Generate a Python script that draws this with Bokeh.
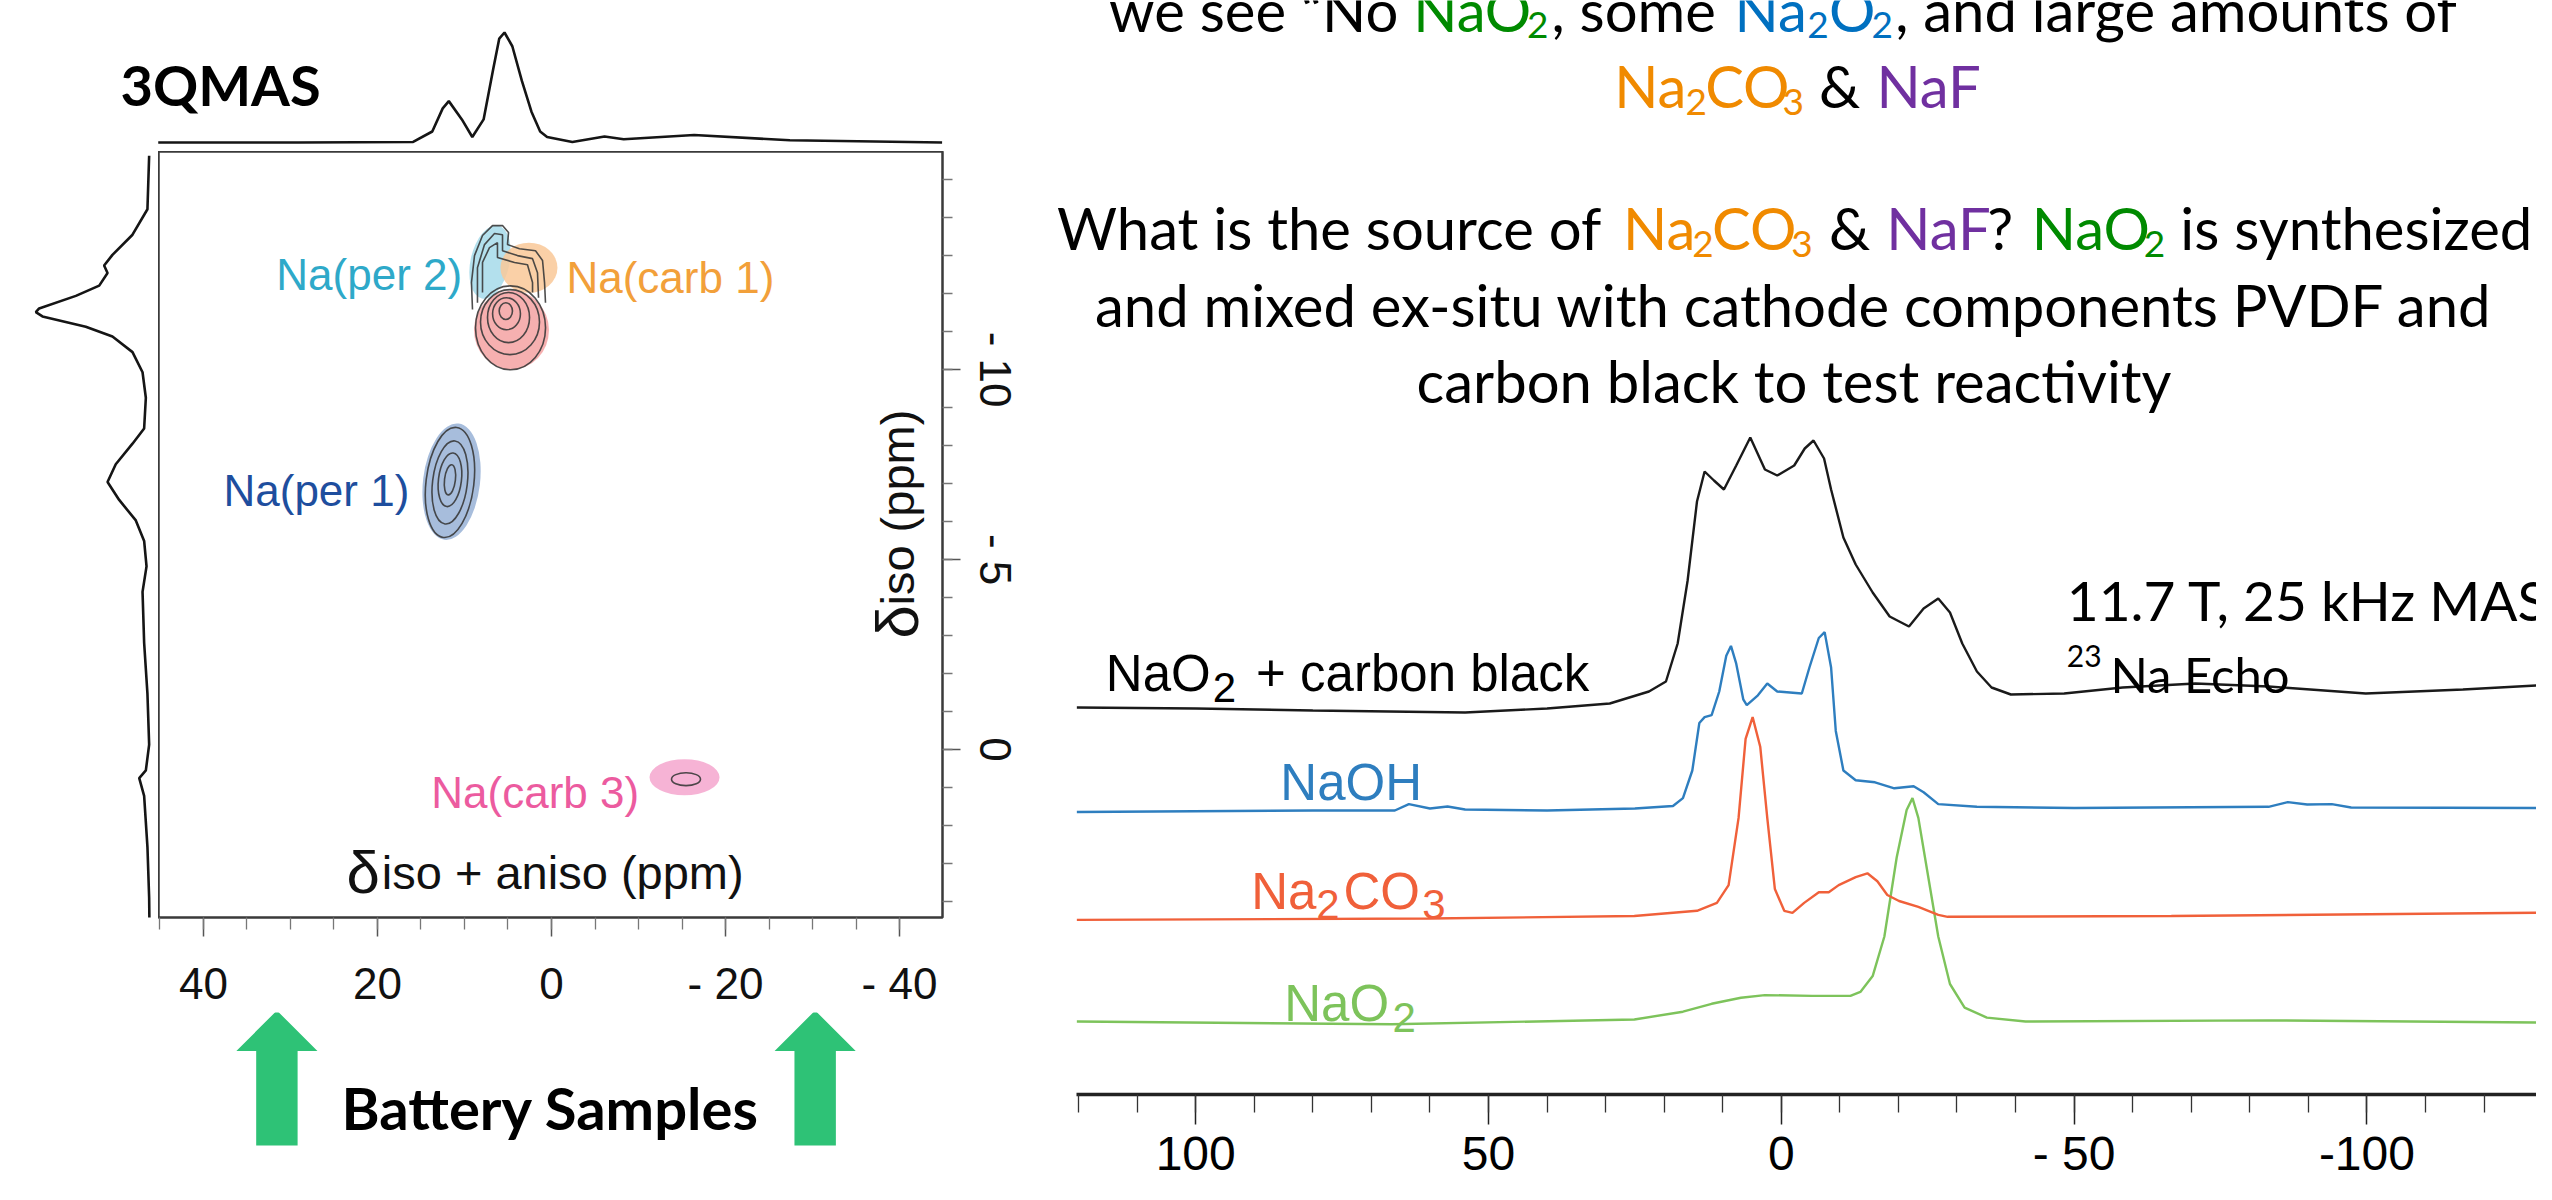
from bokeh.plotting import figure
from bokeh.models import Range1d, FixedTicker, ColumnDataSource, CustomJSTickFormatter
from bokeh.layouts import column, row
from bokeh.embed import file_html
from bokeh.resources import INLINE
from bokeh.core.properties import value

# ---------------- 3QMAS (left) data ----------------
top_proj_ppm = [45.2, 29.1, 15.9, 13.7, 12.5, 11.8, 10.3, 9.1, 7.8, 6.7, 6.0, 5.4, 4.5, 3.4, 2.3, 1.3, 0.5,
                -2.4, -6.1, -8.3, -16.4, -27.4, -44.9]
top_proj_int = [0, 0, 0.005, 0.10, 0.31, 0.376, 0.21, 0.05, 0.21, 0.665, 0.945, 1.0, 0.875, 0.56, 0.28, 0.10, 0.05,
                0.005, 0.055, 0.03, 0.068, 0.02, 0]

left_proj_ppm = [-15.63, -14.22, -13.55, -13.02, -12.74, -12.54, -12.21, -11.94, -11.61, -11.51, -11.40, -11.13,
                 -10.87, -10.46, -9.93, -9.26, -8.45, -8.05, -7.51, -7.04, -6.57, -6.03, -5.49, -4.82, -4.15,
                 -2.81, -1.47, -0.13, 0.55, 0.75, 1.22, 2.56, 3.90, 4.71]
left_proj_int = [0.003, 0.018, 0.149, 0.325, 0.398, 0.368, 0.441, 0.646, 0.968, 0.997, 0.939, 0.559,
                 0.325, 0.149, 0.061, 0.032, 0.047, 0.149, 0.296, 0.368, 0.266, 0.120, 0.047, 0.026, 0.061,
                 0.047, 0.018, 0.003, 0.032, 0.090, 0.047, 0.018, 0.003, 0.0]

blob_x = [7.07, 2.59, 4.6, 11.49, -15.29]
blob_y = [-12.83, -12.68, -11.04, -7.05, 0.73]
blob_w = [4.48, 6.55, 8.62, 6.55, 8.05]
blob_h = [1.97, 1.32, 2.08, 3.08, 0.95]
blob_angle = [-0.22, 0.0, 0.0, -0.12, 0.0]
blob_color = ["#A6DAEA", "#F9C898", "#F4A2A2", "#98B2D6", "#F5A6CE"]

ring_x = [5.25, 5.17, 4.94, 4.77, 4.71, 11.67, 11.67, 11.67, 11.67, -15.46]
ring_y = [-11.54, -11.47, -11.37, -11.25, -11.10, -7.03, -7.03, -7.10, -7.10, 0.78]
ring_w = [1.53, 3.2, 4.83, 6.78, 8.05, 5.5, 4.0, 2.64, 1.25, 3.33]
ring_h = [0.44, 0.84, 1.32, 1.71, 2.21, 2.92, 2.2, 1.42, 0.8, 0.34]
ring_angle = [0, 0, 0, 0, 0, -0.12, -0.12, -0.12, -0.12, 0]

hook_xs = [[9.08, 9.20, 8.85, 7.93, 6.78, 5.63, 4.94, 5.06, 3.68, 1.84, 1.03, 0.80, 0.69],
           [8.51, 8.51, 7.70, 6.55, 5.63, 5.63, 3.91, 2.18, 1.61, 1.49],
           [7.93, 7.93, 7.13, 6.21, 6.21, 4.25, 2.76, 2.18, 2.18]]
hook_ys = [[-11.58, -12.29, -13.0, -13.53, -13.79, -13.79, -13.61, -13.29, -13.18, -13.13, -12.87, -12.29, -11.76],
           [-11.76, -12.68, -13.29, -13.58, -13.55, -13.13, -13.0, -12.92, -12.55, -11.89],
           [-12.03, -12.82, -13.21, -13.34, -12.95, -12.82, -12.76, -12.29, -12.03]]

site_labels = ["Na(per 2)", "Na(carb 1)", "Na(per 1)", "Na(carb 3)"]
site_lx = [31.63, -1.72, 37.7, 13.82]
site_ly = [-12.49, -12.42, -6.83, 1.13]
site_colors = ["#2EA9C9", "#F2A03A", "#1E4E9E", "#EC5B9F"]

x2d_ticks = [40, 20, 0, -20, -40]
y2d_ticks = [-10, -5, 0]

arrow_centers = [31.56, -30.31]

# ---------------- 1D echo spectra (right) data ----------------
blk_ppm = [120.3, 100, 80, 54, 40, 29.3, 22.6, 19.7, 17.7, 16.0, 14.4, 13.1, 11.5, 9.8, 7.7, 5.3, 2.8, 0.7, -2.2,
           -4.0, -5.5, -7.3, -8.5, -10.6, -12.7, -15.6, -18.5, -21.8, -24.3, -26.8, -28.8, -30.9, -33.4, -35.9,
           -39.2, -48.3, -58.3, -70.7, -83.2, -99.8, -116.4, -128.9]
blk_int = [3, 2, 0, -2, 2, 7, 19, 29, 67, 130, 209, 239, 230, 221, 245, 273, 241, 235, 245,
           262, 270, 252, 221, 173, 146, 118, 94, 84, 102, 112, 98, 67, 39, 23,
           16, 17, 23, 27, 24, 17, 21, 25]
blu_ppm = [120.3, 80, 66, 63.6, 60, 57, 54, 40, 25, 18.5, 16.8, 15.2, 14.0, 13.1, 11.9, 10.6, 9.4, 8.6, 7.7, 6.5,
           5.9, 4.0, 2.4, 0.7, -3.5, -4.8, -6.4, -7.4, -8.5, -9.3, -10.6, -12.7, -16.0, -19.3, -22.6, -24.3,
           -26.8, -33.4, -50, -83.2, -86.5, -89.8, -94, -97.3, -128.9]
blu_int = [-1.5, 0, 0, 6.4, 2, 4, 1, 0, 2, 4.5, 12.4, 40, 87.5, 93.4, 95.4, 119, 154.7, 164.6, 146.8, 111.2,
           105.3, 115.2, 127, 119, 117, 143, 172.5, 178.4, 143, 79.6, 40, 30.2, 28.2, 22.2, 24.2, 18.3,
           6.4, 3.7, 2.5, 3.7, 8.4, 6, 6.4, 3, 2.5]
red_ppm = [120.3, 60, 25.1, 14.4, 11.0, 9.0, 7.3, 6.1, 4.9, 3.6, 2.4, 1.1, -0.5, -1.9, -3.9, -6.4, -8.1, -9.8,
           -12.7, -14.7, -16.4, -18.1, -20.1, -23.4, -26.8, -28.4, -66.6, -128.9]
red_int = [-2.4, -1, 1.5, 6.7, 14.6, 32.4, 99.6, 178.7, 200.4, 170.8, 99.6, 28.4, 6.7, 4.7, 14.6, 25.2, 25.2, 32.4,
           40.3, 44.2, 36.3, 22.5, 16.5, 10.6, 2.7, 0.7, 1.5, 4.7]
grn_ppm = [120.3, 66.5, 25.1, 16.8, 11.9, 6.9, 2.8, -5.3, -11.8, -13.5, -15.6, -17.6, -19.7, -21.4, -22.4, -23.4,
           -25.1, -26.8, -28.8, -31.3, -35.1, -41.7, -83.2, -128.9]
grn_int = [1, -1.8, 3, 10.8, 18.7, 24.7, 27.4, 26.6, 26.6, 30.6, 46.4, 86, 165, 212.5, 224.4, 204.6,
           145.3, 86, 38.5, 14.8, 4.9, 1, 2.1, 0]
trace_offsets = [384, 284, 177, 72]
trace_colors = ["#1A1A1A", "#2E7EBF", "#F0603A", "#7DC35B"]

echo_ticks = [100, 50, 0, -50, -100]

SANS = "Liberation Sans"
SLIDE = "Lato"

def add_text(fig, xs, ys, texts, colors, size, font, style="normal", align="left", baseline="alphabetic", angle=0.0):
    src = ColumnDataSource(dict(x=xs, y=ys, t=texts, c=colors))
    fig.text(x="x", y="y", text="t", text_color="c", source=src, text_font=value(font),
             text_font_size=size, text_font_style=style, text_align=align, text_baseline=baseline, angle=angle)

def bare(fig):
    fig.xgrid.visible = False
    fig.ygrid.visible = False
    fig.outline_line_color = None

COMMON = dict(output_backend="svg", toolbar_location=None)

# ---------------- top projection + title ----------------
top = figure(frame_width=1050, frame_height=151, x_range=Range1d(63.33, -57.36), y_range=Range1d(-0.082, 1.291),
             x_axis_location=None, y_axis_location=None,
             min_border_left=0, min_border_right=0, min_border_top=0, min_border_bottom=0, **COMMON)
bare(top)
top.line(top_proj_ppm, top_proj_int, line_color="#151515", line_width=2.6)
add_text(top, [49.54], [0.529], ["3QMAS"], ["#000000"], "56px", SLIDE, style="bold")

# ---------------- 2D main ----------------
x2d = Range1d(45.17, -44.94)
y2d = Range1d(4.42, -15.74)
main = figure(frame_width=784, frame_height=766, x_range=x2d, y_range=y2d,
              x_axis_location="below", y_axis_location="right",
              min_border_left=0, min_border_right=108, min_border_top=0, min_border_bottom=95, **COMMON)
main.xgrid.visible = False
main.ygrid.visible = False
main.outline_line_color = "#3A3A3A"
main.outline_line_width = 2.5

xa = main.xaxis[0]
xa.ticker = FixedTicker(ticks=x2d_ticks, minor_ticks=list(range(-45, 46, 5)))
xa.formatter = CustomJSTickFormatter(code="return tick < 0 ? '- ' + Math.abs(tick) : '' + tick;")
ya = main.yaxis[0]
ya.ticker = FixedTicker(ticks=y2d_ticks, minor_ticks=list(range(-15, 5, 1)))
ya.formatter = CustomJSTickFormatter(code="return tick < 0 ? '- ' + Math.abs(tick) : '' + tick;")
ya.major_label_orientation = "vertical"
for ax, mo, mi, so in ((xa, 19, 12, 22), (ya, 18, 10, 10)):
    ax.axis_line_color = None
    ax.major_tick_out = mo
    ax.major_tick_in = 0
    ax.minor_tick_out = mi
    ax.minor_tick_in = 0
    ax.major_tick_line_color = "#555555"
    ax.major_tick_line_width = 1.5
    ax.minor_tick_line_color = "#777777"
    ax.minor_tick_line_width = 1.3
    ax.major_label_text_font = SANS
    ax.major_label_text_font_size = "44px"
    ax.major_label_text_color = "#111111"
    ax.major_label_standoff = so

main.ellipse(x=blob_x, y=blob_y, width=blob_w, height=blob_h, angle=blob_angle,
             fill_color=blob_color, fill_alpha=0.85, line_color=None)
main.ellipse(x=ring_x, y=ring_y, width=ring_w, height=ring_h, angle=ring_angle,
             fill_color=None, line_color="#3A3A3A", line_width=1.6, line_alpha=0.9)
main.multi_line(xs=hook_xs, ys=hook_ys, line_color="#3A3A3A", line_width=1.6, line_alpha=0.9)

add_text(main, site_lx, site_ly, site_labels, site_colors, "44px", SANS)
# axis titles drawn inside the frame: large delta + smaller remainder
add_text(main, [23.56], [3.24], ["δ"], ["#111111"], "60px", SANS)
add_text(main, [19.5], [3.24], ["iso + aniso (ppm)"], ["#111111"], "47px", SANS)
add_text(main, [-39.77], [-2.92], ["δ"], ["#111111"], "60px", SANS, angle=1.5708)
add_text(main, [-39.77], [-3.79], ["iso (ppm)"], ["#111111"], "47px", SANS, angle=1.5708)

# ---------------- left projection ----------------
lproj = figure(frame_width=158, frame_height=766, x_range=Range1d(1.307, -0.079), y_range=y2d,
               x_axis_location=None, y_axis_location=None,
               min_border_left=0, min_border_right=0, min_border_top=0, min_border_bottom=95, **COMMON)
bare(lproj)
lproj.line(left_proj_int, left_proj_ppm, line_color="#151515", line_width=2.6)

# ---------------- bottom band: arrows + caption ----------------
bot = figure(frame_width=1050, frame_height=172, x_range=Range1d(63.33, -57.36), y_range=Range1d(0, 172),
             x_axis_location=None, y_axis_location=None,
             min_border_left=0, min_border_right=0, min_border_top=0, min_border_bottom=0, **COMMON)
bare(bot)
axs, ays = [], []
for c in arrow_centers:
    axs.append([c + 2.38, c + 2.38, c + 4.66, c, c - 4.66, c - 2.38, c - 2.38])
    ays.append([39, 133.5, 133.5, 174, 133.5, 133.5, 39])
bot.patches(xs=axs, ys=ays, fill_color="#2EC276", line_color=None)
add_text(bot, [0.11], [77.3], ["Battery Samples"], ["#000000"], "58px", SLIDE, style="bold", align="center")

left_col = column(top, row(lproj, main), bot)

# ---------------- right: 23Na echo spectra + slide text ----------------
right = figure(frame_width=1486, frame_height=1094, x_range=Range1d(124.8, -128.96), y_range=Range1d(0, 1094),
               x_axis_location="below", y_axis_location=None,
               min_border_left=0, min_border_right=0, min_border_top=0, min_border_bottom=90, **COMMON)
bare(right)
rx = right.xaxis[0]
rx.ticker = FixedTicker(ticks=echo_ticks, minor_ticks=list(range(-120, 130, 10)))
rx.formatter = CustomJSTickFormatter(
    code="if (tick == -100) return '-100'; return tick < 0 ? '- ' + Math.abs(tick) : '' + tick;")
rx.bounds = (-128.96, 120.35)
rx.axis_line_color = "#222222"
rx.axis_line_width = 3.5
rx.major_tick_out = 30
rx.major_tick_in = 0
rx.minor_tick_out = 18
rx.minor_tick_in = 0
rx.major_tick_line_color = "#222222"
rx.major_tick_line_width = 1.5
rx.minor_tick_line_color = "#333333"
rx.minor_tick_line_width = 1.3
rx.major_label_text_font = SANS
rx.major_label_text_font_size = "48px"
rx.major_label_text_color = "#000000"
rx.major_label_standoff = 2

for ppm, inten, off, col in ((grn_ppm, grn_int, trace_offsets[3], trace_colors[3]),
                             (red_ppm, red_int, trace_offsets[2], trace_colors[2]),
                             (blu_ppm, blu_int, trace_offsets[1], trace_colors[1]),
                             (blk_ppm, blk_int, trace_offsets[0], trace_colors[0])):
    right.line(ppm, [off + v for v in inten], line_color=col, line_width=2.4)

# spectrum labels (Arial-metric font, 51px body / 42px subscripts)
add_text(right, [115.35, 89.69], [421, 421], ["NaO", "+ carbon black"], ["#000000"] * 2, "51px", SANS)
add_text(right, [97.1], [407], ["2"], ["#000000"], "42px", SANS)
add_text(right, [85.55], [312.2], ["NaOH"], [trace_colors[1]], "51px", SANS)
add_text(right, [90.52, 74.76], [203.4, 203.4], ["Na", "CO"], [trace_colors[2]] * 2, "51px", SANS)
add_text(right, [79.4, 61.3], [189.6, 189.6], ["2", "3"], [trace_colors[2]] * 2, "42px", SANS)
add_text(right, [84.89], [90.7], ["NaO"], [trace_colors[3]], "51px", SANS)
add_text(right, [66.4], [77.0], ["2"], [trace_colors[3]], "42px", SANS)

# conditions
add_text(right, [-48.75], [494.1], ["11.7 T, 25 kHz MAS"], ["#000000"], "55px", SLIDE)
add_text(right, [-56.2], [421.0], ["Na Echo"], ["#000000"], "49px", SLIDE)
add_text(right, [-48.75], [439.0], ["23"], ["#000000"], "30px", SLIDE)

# slide text
K, G, B, O, P = "#000000", "#008A00", "#0070C0", "#F08A00", "#7030A0"
L1, L2, L3, L4, L5 = 1085.3, 1008.7, 867.0, 790.3, 713.7
SUB = 16
# runs that end where a coloured run starts: right-aligned at their end
add_text(right, [65.4, 30.75], [L1, L3], ["we see \u201cNo", "What is the source of"], [K, K], "58px", SLIDE,
         align="right")
main_runs_x = [62.86, 39.24, 7.99, -8.13, -19.45,
               28.55, 13.0, -6.44, -16.24,
               27.03, 11.82, -8.13, -17.93, -35.18, -42.78, -68.14]
main_runs_y = [L1] * 5 + [L2] * 4 + [L3] * 7
main_runs_t = ["NaO", ", some", "Na", "O", ", and large amounts of",
               "Na", "CO", "&", "NaF",
               "Na", "CO", "&", "NaF", "?", "NaO", "is synthesized"]
main_runs_c = [G, K, B, B, K,
               O, O, K, P,
               O, O, K, P, K, G, K]
add_text(right, main_runs_x, main_runs_y, main_runs_t, main_runs_c, "58px", SLIDE)
sub_x = [43.43, -4.41, -15.40, 16.38, -0.19, 15.2, -1.71, -61.87]
sub_y = [L1 - SUB] * 3 + [L2 - SUB] * 2 + [L3 - SUB] * 3
sub_t = ["2", "2", "2", "2", "3", "2", "3", "2"]
sub_c = [G, B, B, O, O, O, O, G]
add_text(right, sub_x, sub_y, sub_t, sub_c, "37px", SLIDE)
add_text(right, [-2.17, -2.17], [L4, L5],
         ["and mixed ex-situ with cathode components PVDF and", "carbon black to test reactivity"],
         [K, K], "58px", SLIDE, align="center")

layout = row(left_col, right)
html = file_html(layout, INLINE)
html = html.replace("<head>", "<head><style>html,body{overflow:hidden;}</style>", 1)
open("out.html", "w").write(html)
